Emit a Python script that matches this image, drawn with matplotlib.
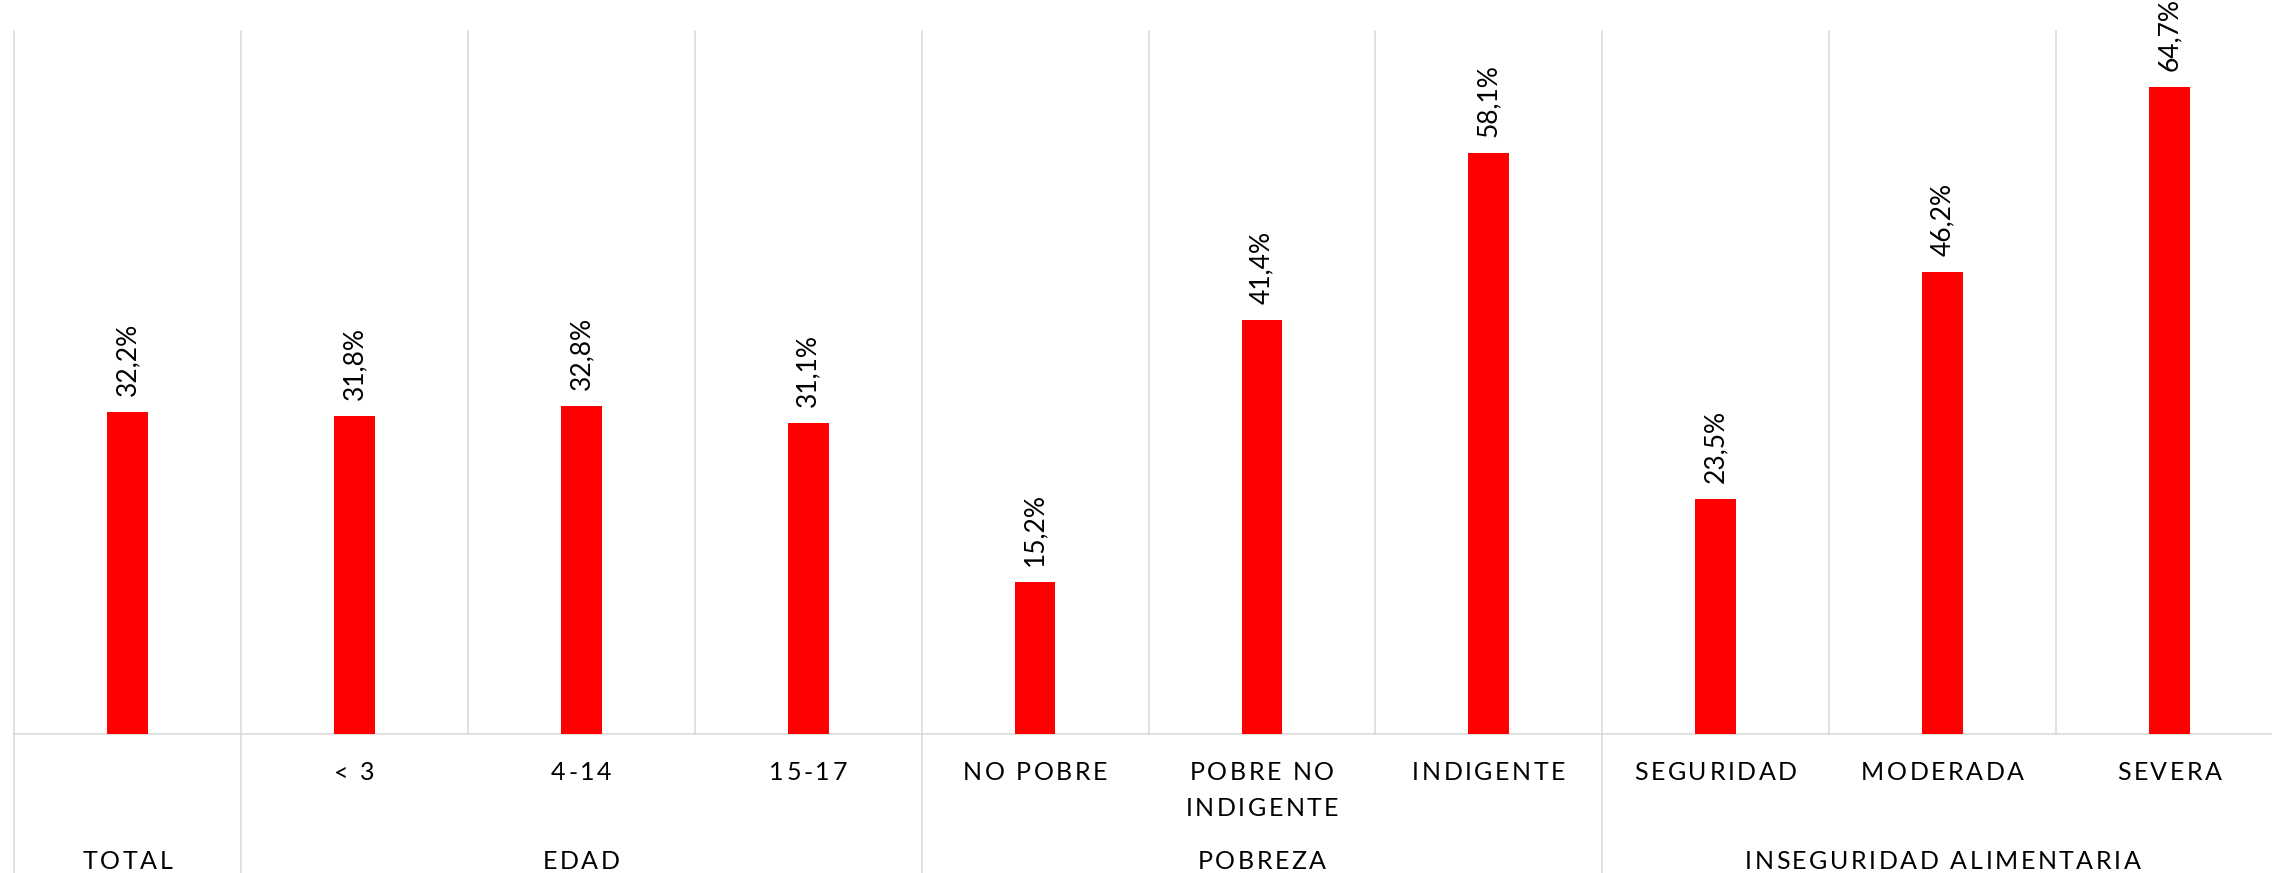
import numpy as np
import matplotlib
matplotlib.use('Agg')
import matplotlib.pyplot as plt
from matplotlib import transforms
from matplotlib.font_manager import FontProperties
from matplotlib.lines import Line2D

# ---------------- data ----------------
group_names = ['TOTAL', 'EDAD', 'POBREZA', 'INSEGURIDAD ALIMENTARIA']
group_sizes = [1, 3, 3, 3]
sub_labels = ['', '< 3', '4-14', '15-17', 'NO POBRE', 'POBRE NO\nINDIGENTE',
              'INDIGENTE', 'SEGURIDAD', 'MODERADA', 'SEVERA']
values = [32.2, 31.8, 32.8, 31.1, 15.2, 41.4, 58.1, 23.5, 46.2, 64.7]

# ---------------- figure ----------------
W, H, DPI = 2272, 873, 100
fig = plt.figure(figsize=(W / DPI, H / DPI), dpi=DPI)
base_px = 733.5   # baseline from top
top_px = 31.0
left_px, right_px = 14.0, 2283.0
ax = fig.add_axes([left_px / W, (H - base_px) / H,
                   (right_px - left_px) / W, (base_px - top_px) / H])

n = len(values)
x = np.arange(n)
GRID = '#D9D9D9'
TXT = '#000000'
FONT = 'Lato'

ax.bar(x, values, width=0.18, color='#FF0000', zorder=3)
ax.set_xlim(-0.5, n - 0.5)
ax.set_ylim(0, 70.25)
for s in ax.spines.values():
    s.set_visible(False)
ax.set_xticks([])
ax.set_yticks([])

for b in np.arange(-0.5, n):
    ax.axvline(b, color=GRID, lw=1.1, zorder=1, clip_on=False)
ax.axhline(0, color=GRID, lw=1.1, zorder=2, clip_on=False)

# group separators extending below the baseline
bt = transforms.blended_transform_factory(ax.transData, fig.transFigure)
bounds = -0.5 + np.concatenate([[0], np.cumsum(group_sizes)])
for b in bounds:
    fig.add_artist(Line2D([b, b], [(H - base_px) / H, 0], transform=bt,
                          color=GRID, lw=1.1, clip_on=False))

# value labels
vprop = FontProperties(family=FONT, size=19)
for xi, v in zip(x, values):
    lbl = f"{v:.1f}%".replace('.', ',')
    ax.annotate(lbl, (xi, v), xytext=(0, 11.5), textcoords='offset points',
                rotation=90, ha='center', va='bottom', fontproperties=vprop,
                color=TXT)

# letter-spaced category labels
tprop = FontProperties(family=FONT, size=18)
fig.canvas.draw()
renderer = fig.canvas.get_renderer()


def tw(t):
    return renderer.get_text_width_height_descent(t, tprop, ismath=False)[0]


BAR2 = tw('||')


def spaced_text(xdata, ybase_top, s, tracking=2.6):
    advs = [tw('|' + c + '|') - BAR2 for c in s]
    total = sum(advs) + tracking * (len(s) - 1)
    pen = -total / 2.0
    yfig = 1 - ybase_top / H
    for c, a in zip(s, advs):
        if c != ' ':
            t = transforms.offset_copy(bt, fig=fig, x=pen, y=0, units='dots')
            fig.text(xdata, yfig, c, transform=t, fontproperties=tprop,
                     ha='left', va='baseline', color=TXT)
        pen += a + tracking


line_y = [780.5, 816.0]
for xi, lab in zip(x, sub_labels):
    for k, line in enumerate(lab.split('\n')):
        if line:
            spaced_text(xi, line_y[k], line)

group_y = 869.0
start = 0
for name, size in zip(group_names, group_sizes):
    center = start + (size - 1) / 2.0
    spaced_text(center, group_y, name)
    start += size

fig.savefig('out.png', dpi=DPI)
